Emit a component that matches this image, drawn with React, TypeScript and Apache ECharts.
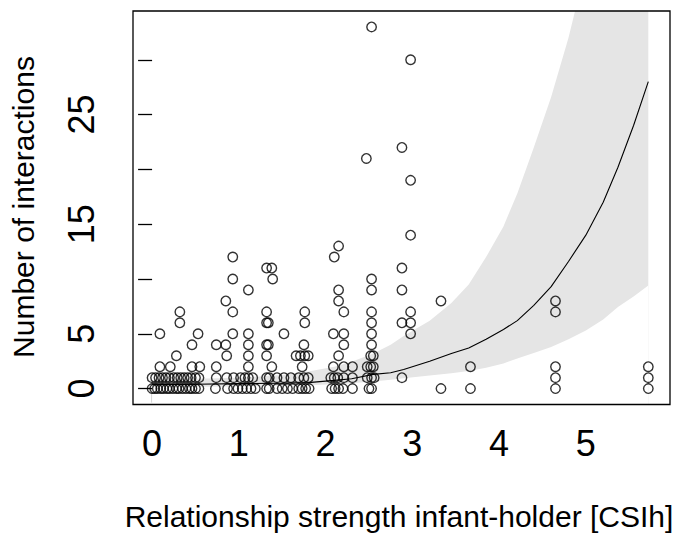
import React, { useEffect, useRef } from "react";
import * as echarts from "echarts";

// Axis ticks / labels
const xTicks = [0, 1, 2, 3, 4, 5];
const yTicks = [0, 5, 10, 15, 20, 25, 30];
const yTickLabels = [0, 5, 15, 25];

// Observed points: x positions (CSIh) for each count of interactions
const x0 = [0.0, 0.03, 0.06, 0.1, 0.13, 0.17, 0.2, 0.24, 0.28, 0.31, 0.35, 0.39, 0.43, 0.46, 0.5, 0.54, 0.73, 0.87, 0.94, 0.99, 1.04, 1.09, 1.14, 1.19, 1.32, 1.35, 1.44, 1.5, 1.56, 1.62, 1.69, 1.73, 1.77, 1.81, 2.07, 2.11, 2.15, 2.2, 2.31, 2.5, 2.53, 3.33, 3.67, 4.65, 5.72];
const x1 = [0.0, 0.04, 0.08, 0.12, 0.16, 0.2, 0.25, 0.29, 0.33, 0.37, 0.41, 0.45, 0.5, 0.54, 0.74, 0.86, 0.94, 1.02, 1.07, 1.11, 1.16, 1.32, 1.35, 1.44, 1.52, 1.6, 1.69, 1.75, 1.8, 2.06, 2.1, 2.14, 2.21, 2.31, 2.48, 2.53, 2.56, 2.88, 4.65, 5.72];
const x2 = [0.09, 0.21, 0.46, 0.55, 0.74, 1.11, 1.38, 1.73, 2.09, 2.21, 2.31, 2.48, 2.52, 2.55, 3.67, 4.65, 5.72];
const x3 = [0.28, 0.86, 1.11, 1.32, 1.66, 1.71, 1.76, 1.8, 2.15, 2.52, 2.55];
const x4 = [0.46, 0.74, 0.85, 1.11, 1.32, 1.34, 1.75, 2.21, 2.53];
const x5 = [0.09, 0.53, 0.93, 1.11, 1.52, 2.09, 2.21, 2.53, 2.98];
const x6 = [0.32, 1.32, 1.34, 1.76, 2.53, 2.88, 2.98];
const x7 = [0.32, 0.93, 1.32, 1.76, 2.21, 2.53, 2.98, 4.65];
const x8 = [0.85, 2.15, 3.33, 4.65];
const x9 = [1.11, 2.15, 2.53, 2.88];
const x10 = [0.93, 1.39, 2.53];
const x11 = [1.32, 1.38, 2.88];
const x12 = [0.93, 2.1];
const x13 = [2.15];
const x14 = [2.98];
const x19 = [2.98];
const x21 = [2.47];
const x22 = [2.88];
const x30 = [2.98];
const x33 = [2.53];

const counts = [0, 1, 2, 3, 4, 5, 6, 7, 8, 9, 10, 11, 12, 13, 14, 19, 21, 22, 30, 33];
const xByCount = [x0, x1, x2, x3, x4, x5, x6, x7, x8, x9, x10, x11, x12, x13, x14, x19, x21, x22, x30, x33];

// Fitted curve and confidence band
const fitX = [0, 0.5, 1.0, 1.5, 1.8, 2.1, 2.3, 2.55, 2.75, 2.9, 3.2, 3.45, 3.65, 3.85, 4.05, 4.21, 4.4, 4.6, 4.8, 5.0, 5.2, 5.37, 5.55, 5.72];
const fitY = [0.35, 0.4, 0.45, 0.5, 0.55, 0.75, 0.9, 1.3, 1.45, 1.75, 2.5, 3.2, 3.7, 4.5, 5.4, 6.2, 7.6, 9.3, 11.6, 14.0, 17.0, 20.2, 24.0, 28.0];
const bandUpper = [0.8, 0.9, 1.0, 1.25, 1.55, 2.0, 2.45, 3.2, 4.0, 4.8, 6.2, 7.8, 9.5, 12.0, 14.8, 17.8, 22.0, 26.6, 32.0, 38.5, 46, 54, 63, 74];
const bandLower = [0.15, 0.17, 0.2, 0.25, 0.3, 0.4, 0.5, 0.65, 0.8, 0.95, 1.2, 1.4, 1.6, 1.9, 2.3, 2.75, 3.25, 3.8, 4.5, 5.3, 6.3, 7.45, 8.4, 9.4];

const FONT = '"Liberation Sans", Arial, Helvetica, sans-serif';

export default function App() {
  const ref = useRef<HTMLDivElement>(null);
  useEffect(() => {
    if (!ref.current) return;
    const chart = echarts.init(ref.current, null, { renderer: "svg" });
    const points: number[][] = [];
    counts.forEach((c, i) => xByCount[i].forEach((x) => points.push([x, c])));
    const left = 133, right = 13, top = 11, bottom = 135.5;
    chart.setOption({
      animation: false,
      grid: { left, right, top, bottom, show: false },
      xAxis: {
        type: "value",
        min: -0.22,
        max: 5.97,
        splitLine: { show: false },
        axisLine: { show: false },
        axisTick: { show: true, length: 14, customValues: xTicks, lineStyle: { color: "#000", width: 1.3 } },
        axisLabel: { customValues: xTicks, fontSize: 36, color: "#000", fontFamily: FONT, margin: 21 },
      },
      yAxis: {
        type: "value",
        min: -1.45,
        max: 34.45,
        splitLine: { show: false },
        axisLine: { show: false },
        axisTick: { show: true, length: 14, customValues: yTicks, lineStyle: { color: "#000", width: 1.3 } },
        axisLabel: { customValues: yTickLabels, fontSize: 36, color: "#000", fontFamily: FONT, margin: 34, rotate: 90 },
      },
      graphic: [
        {
          type: "rect",
          z: 100,
          shape: { x: left, y: top, width: 683 - left - right, height: 540 - top - bottom },
          style: { fill: "none", stroke: "#000", lineWidth: 1.3 },
          silent: true,
        },
        {
          type: "text",
          x: 399,
          y: 516,
          style: { text: "Relationship strength infant-holder [CSIh]", font: `30px ${FONT}`, fill: "#000", textAlign: "center", textVerticalAlign: "middle" },
        },
        {
          type: "text",
          x: 23,
          y: 207,
          rotation: Math.PI / 2,
          style: { text: "Number of interactions", font: `30px ${FONT}`, fill: "#000", textAlign: "center", textVerticalAlign: "middle" },
        },
      ],
      series: [
        {
          type: "line",
          data: fitX.map((x, i) => [x, bandUpper[i]]),
          symbol: "none",
          lineStyle: { width: 0, opacity: 0 },
          areaStyle: { color: "#e5e5e5", opacity: 1, origin: "start" },
          silent: true,
          z: 1,
        },
        {
          type: "line",
          data: fitX.map((x, i) => [x, bandLower[i]]),
          symbol: "none",
          lineStyle: { width: 0, opacity: 0 },
          areaStyle: { color: "#ffffff", opacity: 1, origin: "start" },
          silent: true,
          z: 1,
        },
        {
          type: "line",
          data: fitX.map((x, i) => [x, fitY[i]]),
          symbol: "none",
          lineStyle: { color: "#000", width: 1.1 },
          silent: true,
          z: 3,
        },
        {
          type: "scatter",
          data: points,
          symbol: "circle",
          symbolSize: 9.5,
          itemStyle: { color: "rgba(0,0,0,0)", borderColor: "#000", borderWidth: 1.4 },
          silent: true,
          z: 4,
        },
      ],
    });
    return () => chart.dispose();
  }, []);
  return <div ref={ref} style={{ position: "absolute", left: 0, top: 0, width: 683, height: 540 }} />;
}
